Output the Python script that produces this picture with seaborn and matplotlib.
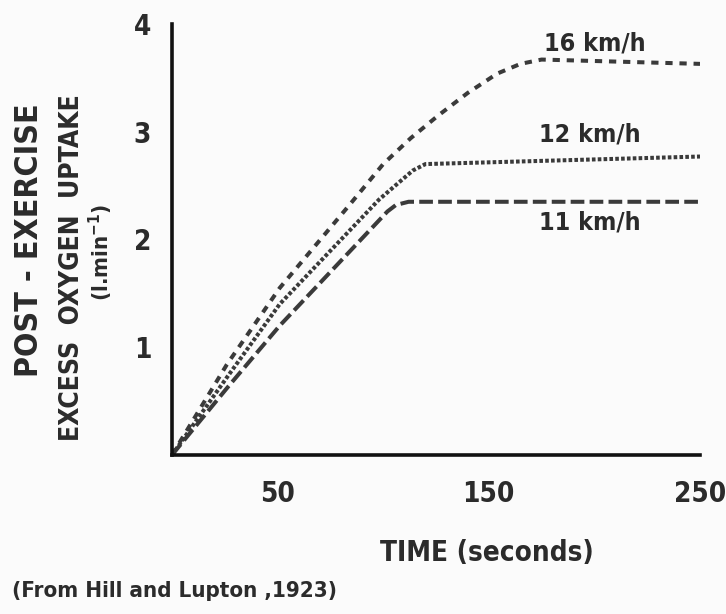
import matplotlib
matplotlib.use("Agg")
import matplotlib.pyplot as plt
import pandas as pd
import seaborn as sns

# Post-exercise excess oxygen uptake (l/min) against time (s), one curve per running speed
speeds = ["16 km/h", "12 km/h", "11 km/h"]
t16 = [0, 26, 51, 84, 100, 113, 126, 140, 154, 165, 175, 250]
v16 = [0, 0.84, 1.55, 2.32, 2.70, 2.94, 3.15, 3.36, 3.54, 3.63, 3.67, 3.63]
t12 = [0, 26, 51, 98, 114, 120, 250]
v12 = [0, 0.72, 1.40, 2.37, 2.64, 2.70, 2.77]
t11 = [0, 26, 51, 102, 106, 112, 250]
v11 = [0, 0.62, 1.20, 2.26, 2.32, 2.35, 2.35]

x_ticks = [50, 100, 150, 200, 250]
x_tick_labels = ["50", "", "150", "", "250"]
y_ticks = [1, 2, 3, 4]
y_tick_labels = ["1", "2", "3", "4"]

frames = []
for name, t, v in zip(speeds, [t16, t12, t11], [v16, v12, v11]):
    frames.append(pd.DataFrame({"time": t, "uptake": v, "speed": name}))
df = pd.concat(frames, ignore_index=True)

sns.set_theme(style="white")
fonts = ["DejaVu Sans"]
plt.rcParams["font.family"] = fonts
plt.rcParams["font.weight"] = "bold"
plt.rcParams["font.stretch"] = "condensed"

ink = "#2b2b2b"
line_ink = "#3a3a3a"
bg = "#fbfbfb"

fig = plt.figure(figsize=(7.26, 6.14), dpi=100, facecolor=bg)
ax = fig.add_axes([0.2369, 0.2590, 0.9642 - 0.2369, 0.9609 - 0.2590])
ax.set_facecolor(bg)

dash_map = {
    "16 km/h": (1.8, 1.7),
    "12 km/h": (0.9, 0.55),
    "11 km/h": (3.4, 1.3),
}
sns.lineplot(
    data=df, x="time", y="uptake", hue="speed", style="speed",
    palette={s: line_ink for s in speeds}, dashes=dash_map,
    linewidth=2.9, legend=False, ax=ax, estimator=None, sort=False,
)
for ln in ax.get_lines():
    ln.set_dash_capstyle("butt")

ax.set_xlim(0, 250)
ax.set_ylim(0, 4)
ax.set_xticks(x_ticks)
ax.set_xticklabels(x_tick_labels)
ax.set_yticks(y_ticks)
ax.set_yticklabels(y_tick_labels)
ax.set_xlabel("")
ax.set_ylabel("")

for side in ["top", "right"]:
    ax.spines[side].set_visible(False)
for side in ["left", "bottom"]:
    ax.spines[side].set_linewidth(2.6)
    ax.spines[side].set_color("#111111")
    ax.spines[side].set_capstyle("projecting")

ax.tick_params(axis="both", direction="out", length=10, width=2.4, color="#111111",
               labelsize=20, labelcolor=ink)
ax.tick_params(axis="x", pad=8)
ax.tick_params(axis="y", pad=5)
for lab in ax.get_xticklabels() + ax.get_yticklabels():
    lab.set_fontweight("bold")
    lab.set_fontstretch("condensed")

# Curve labels
label_kw = dict(fontsize=18, fontweight="bold", fontstretch="condensed", color=ink,
                ha="center", va="center")
ax.text(200, 3.82, "16 km/h", **label_kw)
ax.text(198, 2.97, "12 km/h", **label_kw)
ax.text(198, 2.16, "11 km/h", **label_kw)

# Axis titles
title_kw = dict(fontweight="bold", fontstretch="condensed", color=ink)
fig.text(30 / 726, 1 - 240 / 614, "POST - EXERCISE", rotation=90, fontsize=23,
         ha="center", va="center", **title_kw)
fig.text(72 / 726, 1 - 268 / 614, "EXCESS  OXYGEN  UPTAKE", rotation=90, fontsize=19,
         ha="center", va="center", **title_kw)
fig.text(101 / 726, 1 - 252 / 614, r"(l.min$^{\mathbf{-1}}$)", rotation=90, fontsize=16,
         ha="center", va="center", **title_kw)

fig.text(487 / 726, 1 - 553 / 614, "TIME (seconds)", fontsize=20,
         ha="center", va="center", **title_kw)
fig.text(12 / 726, 1 - 591 / 614, "(From Hill and Lupton ,1923)", fontsize=16,
         ha="left", va="center", **title_kw)

fig.savefig("out.png", dpi=100, facecolor=bg)
